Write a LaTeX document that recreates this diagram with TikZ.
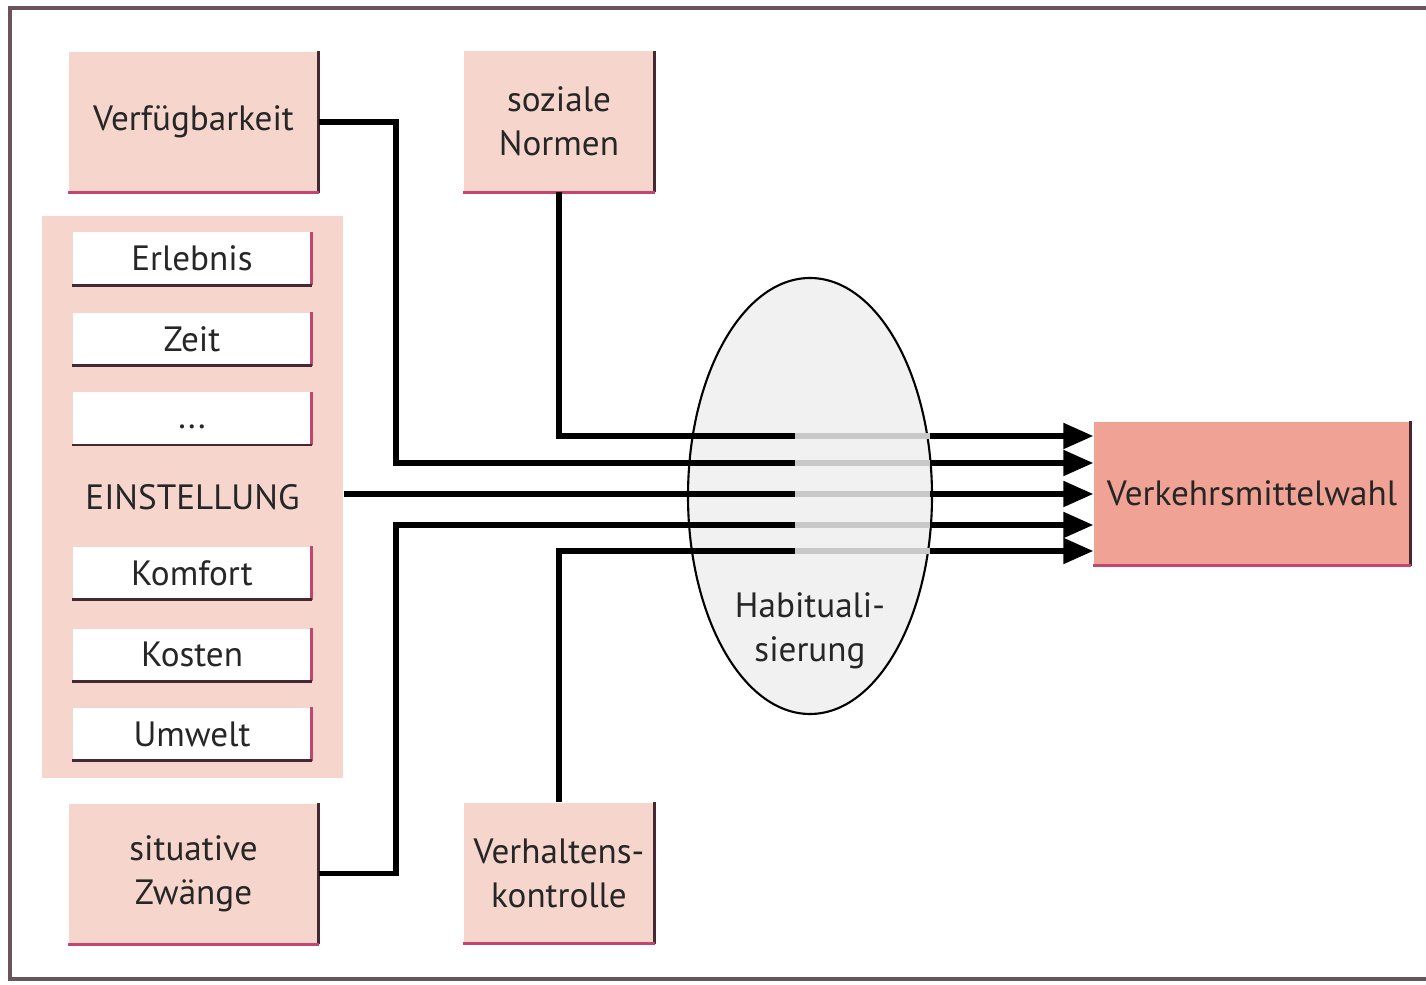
\documentclass[tikz,border=0pt]{standalone}
\usepackage{fontspec}
\setmainfont{PT Sans}
\usetikzlibrary{arrows.meta,positioning,shapes.geometric}
\definecolor{rosa}{RGB}{246,214,204}
\definecolor{lachs}{RGB}{240,163,148}
\definecolor{kante}{RGB}{70,40,50}
\definecolor{rand}{RGB}{196,70,110}
\definecolor{habit}{RGB}{241,241,241}
\definecolor{grau}{RGB}{200,200,200}

\begin{document}
\begin{tikzpicture}[every node/.style={font=\fontsize{10}{12.5}\selectfont, text=black!85},
  box/.style={fill=rosa, minimum width=2.49cm, minimum height=1.40cm, align=center, inner sep=0pt},
  smallbox/.style={box, minimum width=1.90cm},
  item/.style={fill=white, minimum width=2.38cm, minimum height=0.52cm, inner sep=0pt},
  flow/.style={line width=1.5pt, -{Triangle[length=0.30cm, width=0.25cm]}},
  fade/.style={line width=1.5pt, grau},
  edge/.style={line width=0.8pt}]
\useasboundingbox (0,0) rectangle (14.26,9.84);
\draw[line width=0.9pt, kante!80] (14.26,9.76) -- (0.10,9.76) -- (0.10,0.05) -- (14.26,0.05);

\node[box] (verf) at (1.935,8.62) {Verfügbarkeit};
\node[smallbox] (sozial) at (5.59,8.625) {soziale\\Normen};
\node[box, minimum width=3.01cm, minimum height=5.62cm] (group) at (1.925,4.87) {};
\node (einst) at (group.center) {EINSTELLUNG};
\node[item] (erlebnis) at (1.92,7.255) {Erlebnis};
\node[item, below=0.27cm of erlebnis] (zeit) {Zeit};
\node[item, below=0.26cm of zeit] (dots) {\raisebox{-1.2ex}{...}};
\node[item] (umwelt) at (1.92,2.50) {Umwelt};
\node[item, above=0.26cm of umwelt] (kosten) {Kosten};
\node[item, above=0.28cm of kosten] (komfort) {Komfort};
\node[box] (situ) at (1.935,1.105) {situative\\Zwänge};
\node[smallbox] (verh) at (5.59,1.11) {Verhaltens-\\kontrolle};
\node[box, fill=lachs, minimum width=3.16cm, minimum height=1.43cm] (wahl) at (12.52,4.905) {Verkehrsmittelwahl};

\foreach \n in {verf,sozial,situ,verh,wahl} {
  \draw[edge, kante] (\n.north east) -- (\n.south east);
  \draw[edge, rand] (\n.south west) -- (\n.south east);
}
\foreach \n in {erlebnis,zeit,dots,komfort,kosten,umwelt} {
  \draw[edge, rand] (\n.north east) -- (\n.south east);
  \draw[edge, kante] (\n.south west) -- (\n.south east);
}

\node[ellipse, draw, line width=0.6pt, fill=habit, minimum width=2.44cm, minimum height=4.36cm] (habit) at (8.10,4.88) {};
\node[align=center, below=0.84cm of habit.center] (habtext) {Habituali-\\sierung};

\coordinate (l1) at (0,5.48);
\coordinate (l2) at (0,5.21);
\coordinate (l3) at (0,4.90);
\coordinate (l4) at (0,4.59);
\coordinate (l5) at (0,4.33);
\coordinate (knick) at (3.96,0);
\coordinate (g1) at (7.95,0);
\coordinate (g2) at (9.30,0);

\draw[flow] (sozial.south) -- (sozial.south |- l1) -- (wahl.west |- l1);
\draw[flow] (verf.east) -| (knick |- l2) -- (wahl.west |- l2);
\draw[flow] (group.east |- l3) -- (wahl.west |- l3);
\draw[flow] (situ.east) -| (knick |- l4) -- (wahl.west |- l4);
\draw[flow] (verh.north) -- (verh.north |- l5) -- (wahl.west |- l5);
\foreach \l in {l1,l2,l3,l4,l5}
  \draw[fade] (g1 |- \l) -- (g2 |- \l);
\end{tikzpicture}
\end{document}
